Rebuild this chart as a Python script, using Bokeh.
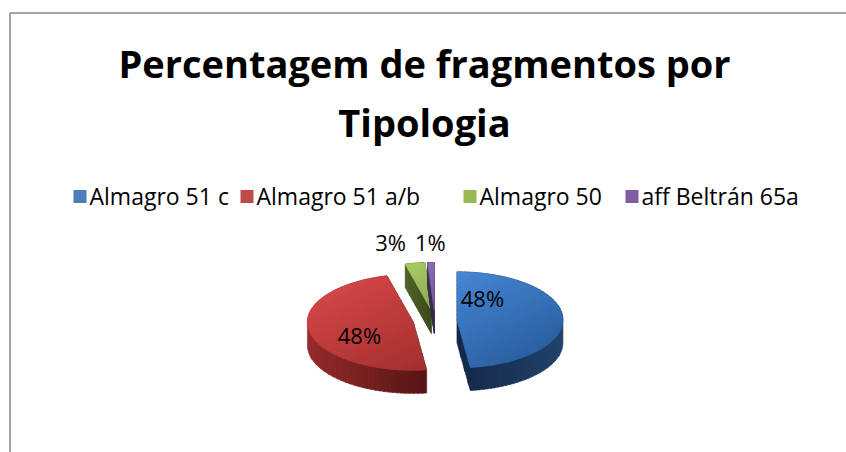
import math
from bokeh.plotting import figure
from bokeh.models import Range1d, ColumnDataSource
from bokeh.core.properties import value
from bokeh.embed import file_html
from bokeh.resources import INLINE

# ---------------- data ----------------
title_lines = ["Percentagem de fragmentos por", "Tipologia"]
categories = ["Almagro 51 c", "Almagro 51 a/b", "Almagro 50", "aff Beltrán 65a"]
percent_values = [48, 48, 3, 1]
percent_labels = ["48%", "48%", "3%", "1%"]

# ---------------- styles / layout ----------------
legend_colors = ["#4a7ebb", "#be4b48", "#98b954", "#7d5fa0"]
top_light = ["#4686d4", "#d14545", "#a9ca63", "#8b6db2"]
top_dark = ["#2c61a3", "#a32f2f", "#8cab4f", "#72569c"]
side_left = ["#142847", "#962b2b", "#52672a", "#43355a"]
side_right = ["#22426b", "#561515", "#3c4b1d", "#362a48"]
FONT = "Open Sans"

W, H = 846, 452
CX, CY = 434.5, 320.0      # pie centre (page px)
RX, RY = 106.0, 48.0       # ellipse radii of top face
DEPTH = 23.0
EXPLODE = 22.0
LABEL_OFF = [(25.5, -21.5), (-54.0, 13.0), (-41.0, -69.0), (-4.0, -69.0)]
LEGEND_SQ_X = [73, 240, 463, 625]
LEGEND_Y = 196
SQ = 13
TITLE_Y = [62, 121]

p = figure(width=W, height=H, output_backend="svg", toolbar_location=None,
           x_range=Range1d(0, W), y_range=Range1d(H, 0),
           x_axis_location=None, y_axis_location=None, min_border=0)
p.grid.visible = False
p.outline_line_color = None
p.background_fill_color = "white"
p.border_fill_color = "white"

# chart frame
p.line([9.5, 9.5, 860], [470, 12.5, 12.5], line_color="#868686", line_width=1.5)


def hex2rgb(h):
    h = h.lstrip("#")
    return tuple(int(h[i:i + 2], 16) for i in (0, 2, 4))


def mix(c1, c2, t):
    a, b = hex2rgb(c1), hex2rgb(c2)
    return "#%02x%02x%02x" % tuple(int(round(a[i] + (b[i] - a[i]) * t)) for i in range(3))


def clip(poly, f):
    out = []
    n = len(poly)
    for i in range(n):
        cur, prev = poly[i], poly[i - 1]
        fc, fp = f(cur), f(prev)
        if fc >= 0:
            if fp < 0:
                t = fp / (fp - fc)
                out.append((prev[0] + t * (cur[0] - prev[0]), prev[1] + t * (cur[1] - prev[1])))
            out.append(cur)
        elif fp >= 0:
            t = fp / (fp - fc)
            out.append((prev[0] + t * (cur[0] - prev[0]), prev[1] + t * (cur[1] - prev[1])))
    return out


def hull(pts):
    pts = sorted(set(pts))
    def cross(o, a, b):
        return (a[0] - o[0]) * (b[1] - o[1]) - (a[1] - o[1]) * (b[0] - o[0])
    lower, upper = [], []
    for q in pts:
        while len(lower) >= 2 and cross(lower[-2], lower[-1], q) <= 0:
            lower.pop()
        lower.append(q)
    for q in reversed(pts):
        while len(upper) >= 2 and cross(upper[-2], upper[-1], q) <= 0:
            upper.pop()
        upper.append(q)
    return lower[:-1] + upper[:-1]


def gradient(poly, d, c1, c2, n=28):
    xs, ys, cs = [], [], []
    proj = [q[0] * d[0] + q[1] * d[1] for q in poly]
    lo, hi = min(proj), max(proj)
    step = (hi - lo) / n
    for i in range(n):
        a = lo + i * step - 0.4
        b = lo + (i + 1) * step + 0.4
        sub = clip(poly, lambda q: q[0] * d[0] + q[1] * d[1] - a)
        if len(sub) < 3:
            continue
        sub = clip(sub, lambda q: b - (q[0] * d[0] + q[1] * d[1]))
        if len(sub) < 3:
            continue
        xs.append([q[0] for q in sub])
        ys.append([q[1] for q in sub])
        cs.append(mix(c1, c2, (i + 0.5) / n))
    return xs, ys, cs


total = float(sum(percent_values))
starts, ends = [], []
acc = 0.0
for v in percent_values:
    starts.append(acc / total * 360.0)
    acc += v
    ends.append(acc / total * 360.0)

slices = []
for i in range(len(percent_values)):
    a0, a1 = starts[i], ends[i]
    mid = math.radians((a0 + a1) / 2)
    vx = CX + EXPLODE * math.sin(mid)
    vy = CY - EXPLODE * math.cos(mid) * RY / RX
    nstep = max(4, int((a1 - a0) / 2))
    top = [(vx, vy)]
    for k in range(nstep + 1):
        th = math.radians(a0 + (a1 - a0) * k / nstep)
        top.append((vx + RX * math.sin(th), vy - RY * math.cos(th)))
    bottom = [(x, y + DEPTH) for x, y in top]
    slices.append((i, (vx, vy), top, hull(top + bottom)))

draw_order = [2, 3, 1, 0]
for i in draw_order:
    _, vtx, top, solid = slices[i]
    xs, ys, cs = gradient(solid, (1.0, 0.0), side_left[i], side_right[i])
    p.patches(xs, ys, fill_color=cs, line_color=cs, line_width=0.6)
    xs, ys, cs = gradient(top, (0.45, 0.89), top_light[i], top_dark[i])
    p.patches(xs, ys, fill_color=cs, line_color=cs, line_width=0.6)

# data labels
lab = ColumnDataSource(dict(
    x=[slices[i][1][0] + LABEL_OFF[i][0] for i in range(len(percent_values))],
    y=[slices[i][1][1] + LABEL_OFF[i][1] for i in range(len(percent_values))],
    t=percent_labels))
p.text("x", "y", text="t", source=lab, text_font=value(FONT), text_font_size="22px",
       text_align="center", text_baseline="middle", text_color="black")

# title
p.text([424, 424], TITLE_Y, text=title_lines, text_font=value(FONT), text_font_size="38px",
       text_font_style="bold", text_align="center", text_baseline="alphabetic", text_color="black")

# legend
p.rect([x + SQ / 2 for x in LEGEND_SQ_X], [LEGEND_Y] * 4, width=SQ, height=SQ,
       fill_color=legend_colors, line_color=None)
p.text([x + SQ + 3 for x in LEGEND_SQ_X], [LEGEND_Y - 1] * 4, text=categories, text_font=value(FONT),
       text_font_size="23px", text_align="left", text_baseline="middle", text_color="black")

open("out.html", "w").write(file_html(p, INLINE))
